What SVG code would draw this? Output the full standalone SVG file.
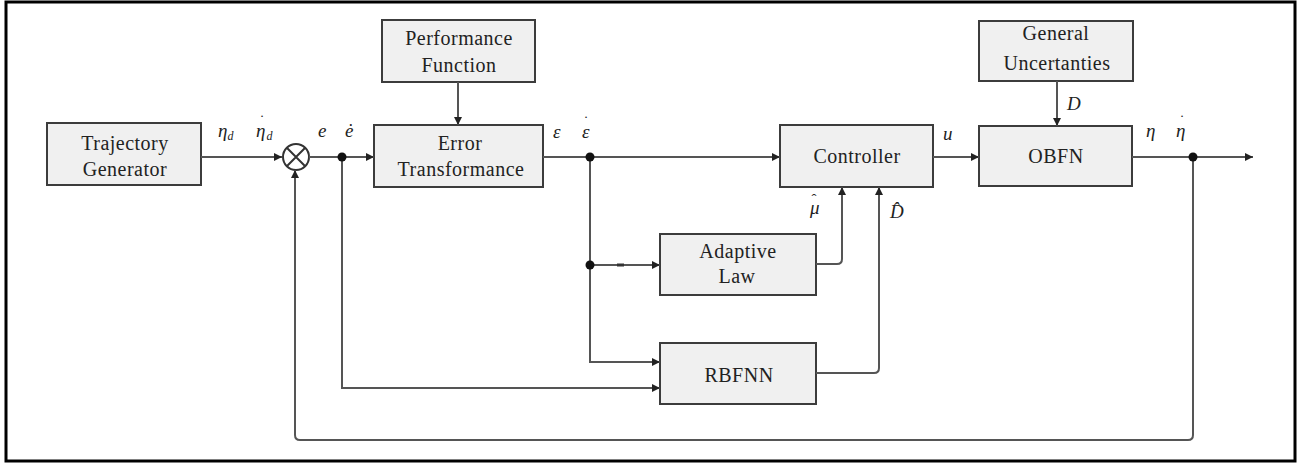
<svg xmlns="http://www.w3.org/2000/svg" width="1303" height="464" viewBox="0 0 1303 464">
  <defs>
    <marker id="arr" viewBox="0 0 10 10" refX="10" refY="5" markerWidth="9" markerHeight="8" markerUnits="userSpaceOnUse" orient="auto">
      <path d="M0,0 L10,5 L0,10 Z" fill="#222"/>
    </marker>
    <style>
      text { font-family: 'Liberation Serif', 'DejaVu Serif', serif; }
      .lbl { font-size: 20px; letter-spacing: 0.5px; fill: #222; text-anchor: middle; }
      .math { font-style: italic; font-size: 19px; fill: #222; }
      .sub { font-size: 12px; }
      .acc { font-style: normal; font-size: 15px; }
      .box { fill: #f0f0f0; stroke: #3c3c3c; stroke-width: 2; }
      .wire { fill: none; stroke: #555; stroke-width: 2; }
      .dot { fill: #111; }
    </style>
  </defs>

  <rect x="0" y="0" width="1303" height="464" fill="#fff"/>
  <rect x="6" y="2" width="1289" height="459" fill="none" stroke="#000" stroke-width="3"/>

  <!-- blocks -->
  <g id="trajectory-generator">
    <rect class="box" x="47" y="123" width="154" height="62"/>
    <text class="lbl" x="125" y="150">Trajectory</text>
    <text class="lbl" x="125" y="176">Generator</text>
  </g>
  <g id="summing-junction">
    <circle cx="296" cy="157" r="13" fill="#fff" stroke="#333" stroke-width="2"/>
    <path d="M286.8,147.8 L305.2,166.2 M305.2,147.8 L286.8,166.2" stroke="#333" stroke-width="2"/>
  </g>
  <g id="performance-function">
    <rect class="box" x="382" y="20" width="153" height="62"/>
    <text class="lbl" x="459" y="45">Performance</text>
    <text class="lbl" x="459" y="72">Function</text>
  </g>
  <g id="error-transformance">
    <rect class="box" x="374" y="125" width="169" height="62"/>
    <text class="lbl" x="460" y="150">Error</text>
    <text class="lbl" x="461" y="176">Transformance</text>
  </g>
  <g id="controller">
    <rect class="box" x="780" y="125" width="153" height="62"/>
    <text class="lbl" x="857" y="163">Controller</text>
  </g>
  <g id="general-uncertanties">
    <rect class="box" x="979" y="21" width="154" height="60"/>
    <text class="lbl" x="1056" y="40">General</text>
    <text class="lbl" x="1057" y="70">Uncertanties</text>
  </g>
  <g id="obfn">
    <rect class="box" x="979" y="126" width="153" height="60"/>
    <text class="lbl" x="1056" y="163">OBFN</text>
  </g>
  <g id="adaptive-law">
    <rect class="box" x="660" y="234" width="156" height="61"/>
    <text class="lbl" x="738" y="258">Adaptive</text>
    <text class="lbl" x="737" y="283">Law</text>
  </g>
  <g id="rbfnn">
    <rect class="box" x="660" y="343" width="156" height="61"/>
    <text class="lbl" x="739" y="382">RBFNN</text>
  </g>

  <!-- connectors -->
  <g id="connectors">
    <path class="wire" d="M201,157 H282" marker-end="url(#arr)"/>
    <path class="wire" d="M309,157 H374" marker-end="url(#arr)"/>
    <path class="wire" d="M458,82 V125" marker-end="url(#arr)"/>
    <path class="wire" d="M543,157 H780" marker-end="url(#arr)"/>
    <path class="wire" d="M933,157 H979" marker-end="url(#arr)"/>
    <path class="wire" d="M1057,81 V126" marker-end="url(#arr)"/>
    <path class="wire" d="M1132,157 H1253" marker-end="url(#arr)"/>
    <!-- output fed back to the summing junction -->
    <path class="wire" d="M1193,157 V435 Q1193,440 1188,440 H300 Q295,440 295,435 V170" marker-end="url(#arr)"/>
    <!-- error branch to RBFNN -->
    <path class="wire" d="M342,157 V388 H660" marker-end="url(#arr)"/>
    <!-- transformed error branches -->
    <path class="wire" d="M590,157 V362 H660" marker-end="url(#arr)"/>
    <path class="wire" d="M590,265 H660" marker-end="url(#arr)"/>
    <path d="M617,265 H624" stroke="#333" stroke-width="3"/>
    <!-- estimates into the controller -->
    <path class="wire" d="M816,264 H837 Q842,264 842,259 V187" marker-end="url(#arr)"/>
    <path class="wire" d="M816,373 H874 Q879,373 879,368 V187" marker-end="url(#arr)"/>
    <circle class="dot" cx="342" cy="157" r="4.5"/>
    <circle class="dot" cx="590" cy="157" r="4.5"/>
    <circle class="dot" cx="590" cy="265" r="4.5"/>
    <circle class="dot" cx="1193" cy="157" r="4.5"/>
  </g>

  <!-- signal labels; accents are placed as shifted tspans -->
  <g id="signal-labels">
    <text class="math" x="218" y="137">η<tspan class="sub" dy="3">d</tspan></text>
    <text class="math" x="256" y="137">η<tspan class="acc" dx="-6" dy="-12">˙</tspan><tspan class="sub" dx="2" dy="15">d</tspan></text>
    <text class="math" x="318" y="137">e</text>
    <text class="math" x="345" y="137">ė</text>
    <text class="math" x="553" y="138">ε</text>
    <text class="math" x="582" y="138">ε<tspan class="acc" dx="-6" dy="-12">˙</tspan></text>
    <text class="math" x="943" y="140">u</text>
    <text class="math" x="1146" y="137">η</text>
    <text class="math" x="1176" y="137">η<tspan class="acc" dx="-6" dy="-12">˙</tspan></text>
    <text class="math" x="1067" y="110">D</text>
    <text class="math" x="810" y="214">μ<tspan class="acc" dx="-8" dy="-10">ˆ</tspan></text>
    <text class="math" x="890" y="218">D̂</text>
  </g>
</svg>
